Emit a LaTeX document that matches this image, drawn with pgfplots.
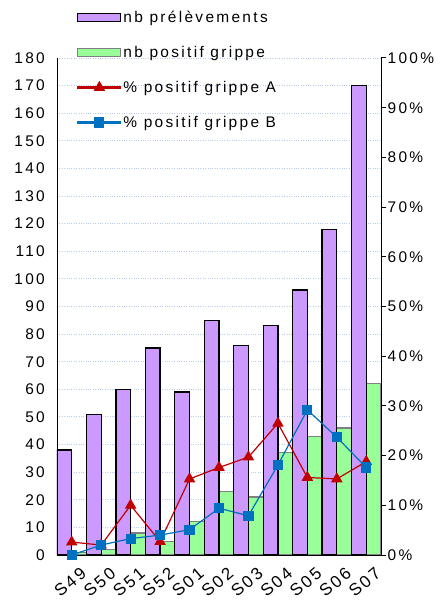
\documentclass[border=0pt]{standalone}
\usepackage{fontspec}
\setmainfont{Liberation Sans}[LetterSpace=15]
\usepackage{pgfplots}
\pgfplotsset{compat=1.18}
\definecolor{barpurple}{HTML}{CC99FF}
\definecolor{bargreen}{HTML}{99FF99}
\definecolor{lineA}{HTML}{C00000}
\definecolor{lineB}{HTML}{0070C0}
\definecolor{gridc}{HTML}{B8CBEA}
\pgfplotsset{
  barlegend/.style={legend image code/.code={\draw[##1] (0bp,-4bp) rectangle (43bp,4bp);}},
  linelegendA/.style={legend image code/.code={%
    \fill[lineA] (0bp,-0.7bp) rectangle (43bp,0.7bp);
    \fill[lineA] (21.5bp,0bp) ++(90:5.5bp) -- ++(-120:9.5bp) -- ++(0:9.5bp) -- cycle;}},
  linelegendB/.style={legend image code/.code={%
    \fill[lineB] (0bp,-0.7bp) rectangle (43bp,0.7bp);
    \fill[lineB] (17bp,-4.5bp) rectangle (26bp,4.5bp);}},
}
\begin{document}
\begin{tikzpicture}
\path[use as bounding box] (-57bp,-46bp) rectangle (385bp,555bp);
\begin{axis}[
  scale only axis, width=324bp, height=497bp,
  xmin=-0.5, xmax=10.5, ymin=0, ymax=180,
  xtick={0,...,10},
  xticklabels={S49,S50,S51,S52,S01,S02,S03,S04,S05,S06,S07},
  ytick={0,10,...,180},
  axis y line*=left, axis x line*=bottom,
  axis line style={line width=1pt},
  ymajorgrids, major grid style={gridc, dotted, line width=0.9pt},
  tick style={draw=none},
  tick label style={font=\fontsize{15.5}{18}\selectfont},
  xticklabel style={font=\fontsize{17}{18}\selectfont, xshift=8bp, yshift=-11bp, rotate=40, anchor=north east, inner sep=0pt},
  yticklabel style={inner sep=0pt, xshift=-12bp},
  /pgf/number format/assume math mode=true,
]
\addplot[ybar, bar width=0.5, bar shift=0.25, fill=bargreen, draw=gray, line width=1.2pt]
  coordinates {(0,1) (1,2) (2,8) (3,5) (4,12) (5,23) (6,21) (7,37) (8,43) (9,46) (10,62)};
\addplot[ybar, bar width=0.5, bar shift=-0.25, fill=barpurple, draw=black, line width=1.2pt]
  coordinates {(0,38) (1,51) (2,60) (3,75) (4,59) (5,85) (6,76) (7,83) (8,96) (9,118) (10,170)};
\end{axis}
\begin{axis}[
  scale only axis, width=324bp, height=497bp,
  xmin=-0.5, xmax=10.5, ymin=0, ymax=100,
  xtick=\empty,
  ytick={0,10,...,100},
  yticklabel={\pgfmathprintnumber{\tick}\%},
  axis y line*=right, axis x line=none,
  axis line style={line width=1pt},
  tick align=outside, major tick length=5bp,
  tick style={line width=1pt, black},
  tick label style={font=\fontsize{15.5}{18}\selectfont},
  yticklabel style={inner sep=0pt, xshift=1.5bp},
  /pgf/number format/assume math mode=true,
  legend style={at={(0.062,1.099)}, anchor=north west, draw=none, fill=none,
    font=\fontsize{15.5}{18}\selectfont, row sep=18.3bp, inner sep=0pt,
    nodes={inner sep=2bp}},
  legend cell align=left,
]
\addlegendimage{fill=barpurple, draw=black, line width=1.2pt, barlegend}
\addlegendentry{nb prélèvements}
\addlegendimage{fill=bargreen, draw=gray, line width=1.2pt, barlegend}
\addlegendentry{nb positif grippe}
\addplot[lineA, line width=1.2pt, mark=triangle*, mark size=5.5bp, linelegendA]
  coordinates {(0,2.6) (1,2.0) (2,10.0) (3,2.7) (4,15.3) (5,17.6) (6,19.7) (7,26.5) (8,15.6) (9,15.3) (10,18.8)};
\addlegendentry{\% positif grippe A}
\addplot[lineB, line width=1.2pt, mark=square*, mark size=4.5bp, linelegendB]
  coordinates {(0,0) (1,2.0) (2,3.3) (3,4.0) (4,5.1) (5,9.4) (6,7.9) (7,18.1) (8,29.2) (9,23.7) (10,17.6)};
\addlegendentry{\% positif grippe B}
\end{axis}
\end{tikzpicture}
\end{document}
